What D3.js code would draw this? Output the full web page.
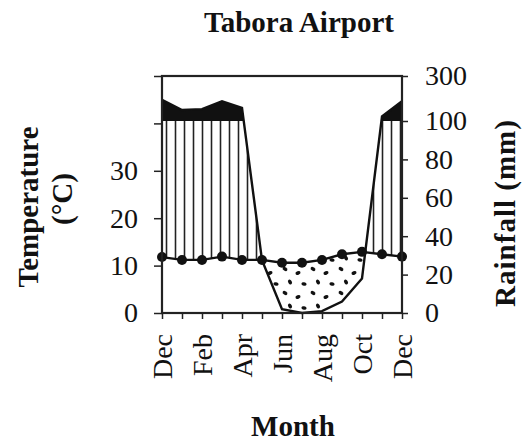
<!DOCTYPE html>
<html>
<head>
<meta charset="utf-8">
<script src="https://cdn.jsdelivr.net/npm/d3@7"></script>
<style>
  body { margin: 0; background: #fff; }
  svg text { font-family: "Liberation Serif", "Times New Roman", serif; fill: #111; }
  .axis path.domain { display: none; }
  .axis line { stroke: #222; stroke-width: 1.5; }
</style>
</head>
<body>
<svg id="chart" width="526" height="441"></svg>
<script>
// month ticks, Dec to Dec
var months = ['Dec', 'Jan', 'Feb', 'Mar', 'Apr', 'May', 'Jun', 'Jul', 'Aug', 'Sep', 'Oct', 'Nov', 'Dec'];
// mean temperature (degC)
var temperature = [11.8, 11.2, 11.2, 11.9, 11.2, 11.2, 10.6, 10.6, 11.2, 12.4, 12.9, 12.4, 11.9];
// rainfall (mm), right axis (compressed above 100)
var rainfall = [194, 149, 153, 188, 158, 27.5, 2, 0, 1, 6, 18, 120, 188];

var tempTicks = [0, 10, 20, 30, 40, 50];
var tempLabels = ['0', '10', '20', '30', '', ''];
var rainTicks = [0, 20, 40, 60, 80, 100, 300];

var svg = d3.select('#chart');

var x = d3.scaleLinear().domain([0, 12]).range([162, 402]);
var tempY = d3.scaleLinear().domain([0, 50]).range([313, 76]);
var rainY = d3.scaleLinear().domain([0, 100, 300]).range([313, 121, 76]);

// note: "top" is taken by window.top, so use other names
var yTop = tempY(50), yBottom = tempY(0), xLeft = x(0), xRight = x(12);

// patterns for the humid (hatched) and arid (dotted) periods
var defs = svg.append('defs');
var hatch = defs.append('pattern')
    .attr('id', 'hatch')
    .attr('patternUnits', 'userSpaceOnUse')
    .attr('width', 9)
    .attr('height', 10);
hatch.append('line')
    .attr('x1', 4.5).attr('x2', 4.5)
    .attr('y1', 0).attr('y2', 10)
    .attr('stroke', '#222')
    .attr('stroke-width', 1.6);

var dots = defs.append('pattern')
    .attr('id', 'dots')
    .attr('patternUnits', 'userSpaceOnUse')
    .attr('width', 28)
    .attr('height', 24);
var blobs = [[5, 5, 30], [18, 9, -20], [10, 18, 60], [24, 20, 10]];
blobs.forEach(function(b) {
    dots.append('ellipse')
        .attr('cx', b[0]).attr('cy', b[1])
        .attr('rx', 2.6).attr('ry', 1.8)
        .attr('transform', 'rotate(' + b[2] + ',' + b[0] + ',' + b[1] + ')')
        .attr('fill', '#111');
});

var idx = d3.range(months.length);

var aboveTemp = d3.area()
    .x(function(i) { return x(i); })
    .y0(yTop)
    .y1(function(i) { return tempY(temperature[i]); });
var belowTemp = d3.area()
    .x(function(i) { return x(i); })
    .y0(function(i) { return tempY(temperature[i]); })
    .y1(yBottom);

defs.append('clipPath').attr('id', 'clipAboveTemp')
    .append('path').attr('d', aboveTemp(idx));
defs.append('clipPath').attr('id', 'clipBelowTemp')
    .append('path').attr('d', belowTemp(idx));
defs.append('clipPath').attr('id', 'clipBelow100')
    .append('rect')
    .attr('x', xLeft).attr('y', rainY(100))
    .attr('width', xRight - xLeft).attr('height', yBottom - rainY(100));
defs.append('clipPath').attr('id', 'clipAbove100')
    .append('rect')
    .attr('x', xLeft).attr('y', yTop)
    .attr('width', xRight - xLeft).attr('height', rainY(100) - yTop);

var between = d3.area()
    .x(function(i) { return x(i); })
    .y0(function(i) { return tempY(temperature[i]); })
    .y1(function(i) { return rainY(rainfall[i]); });

// humid season
svg.append('g')
    .attr('clip-path', 'url(#clipAboveTemp)')
    .append('path')
    .attr('d', between(idx))
    .attr('fill', 'url(#hatch)')
    .attr('clip-path', 'url(#clipBelow100)');

// arid season
svg.append('path')
    .attr('d', between(idx))
    .attr('fill', 'url(#dots)')
    .attr('clip-path', 'url(#clipBelowTemp)');

// rainfall above 100 mm
var wet = d3.area()
    .x(function(i) { return x(i); })
    .y0(rainY(100))
    .y1(function(i) { return rainY(rainfall[i]); });
svg.append('path')
    .attr('d', wet(idx))
    .attr('fill', '#111')
    .attr('clip-path', 'url(#clipAbove100)');

// rainfall line
svg.append('path')
    .datum(idx)
    .attr('d', d3.line().x(function(i) { return x(i); }).y(function(i) { return rainY(rainfall[i]); }))
    .attr('fill', 'none')
    .attr('stroke', '#111')
    .attr('stroke-width', 2.4);

// temperature line + markers
svg.append('path')
    .datum(idx)
    .attr('d', d3.line().x(function(i) { return x(i); }).y(function(i) { return tempY(temperature[i]); }))
    .attr('fill', 'none')
    .attr('stroke', '#111')
    .attr('stroke-width', 2.4);
svg.selectAll('circle.temp')
    .data(idx)
    .enter()
    .append('circle')
    .classed('temp', true)
    .attr('cx', function(i) { return x(i); })
    .attr('cy', function(i) { return tempY(temperature[i]); })
    .attr('r', 5)
    .attr('fill', '#111');

// frame
svg.append('rect')
    .attr('x', xLeft).attr('y', yTop)
    .attr('width', xRight - xLeft).attr('height', yBottom - yTop)
    .attr('fill', 'none')
    .attr('stroke', '#222')
    .attr('stroke-width', 2.2);

// axes
var leftAxis = svg.append('g')
    .classed('axis', true)
    .attr('transform', 'translate(' + xLeft + ',0)')
    .call(d3.axisLeft(tempY)
        .tickValues(tempTicks)
        .tickFormat(function(d, i) { return tempLabels[i]; })
        .tickSize(8)
        .tickPadding(16));
leftAxis.selectAll('text').style('font-size', '28px');

var rightAxis = svg.append('g')
    .classed('axis', true)
    .attr('transform', 'translate(' + xRight + ',0)')
    .call(d3.axisRight(rainY)
        .tickValues(rainTicks)
        .tickFormat(d3.format('d'))
        .tickSize(6)
        .tickPadding(17));
rightAxis.selectAll('text').style('font-size', '28px');

var bottomAxis = svg.append('g')
    .classed('axis', true)
    .attr('transform', 'translate(0,' + yBottom + ')')
    .call(d3.axisBottom(x)
        .tickValues(idx)
        .tickFormat(function(i) { return i % 2 === 0 ? months[i] : ''; })
        .tickSize(6));
bottomAxis.selectAll('text')
    .style('font-size', '28px')
    .attr('text-anchor', 'end')
    .attr('transform', 'rotate(-90)')
    .attr('x', -21)
    .attr('y', 0)
    .attr('dy', '0.35em');

// titles
svg.append('text')
    .attr('x', 299).attr('y', 32)
    .attr('text-anchor', 'middle')
    .style('font-size', '29px')
    .style('font-weight', 'bold')
    .text('Tabora Airport');

svg.append('text')
    .attr('x', 293).attr('y', 436)
    .attr('text-anchor', 'middle')
    .style('font-size', '29px')
    .style('font-weight', 'bold')
    .text('Month');

svg.append('text')
    .attr('transform', 'translate(38,207) rotate(-90)')
    .attr('text-anchor', 'middle')
    .style('font-size', '29px')
    .style('font-weight', 'bold')
    .text('Temperature');
svg.append('text')
    .attr('transform', 'translate(72,199) rotate(-90)')
    .attr('text-anchor', 'middle')
    .style('font-size', '29px')
    .style('font-weight', 'bold')
    .text('(°C)');

svg.append('text')
    .attr('transform', 'translate(515,213) rotate(-90)')
    .attr('text-anchor', 'middle')
    .style('font-size', '29px')
    .style('font-weight', 'bold')
    .style('letter-spacing', '1px')
    .text('Rainfall (mm)');
</script>
</body>
</html>
